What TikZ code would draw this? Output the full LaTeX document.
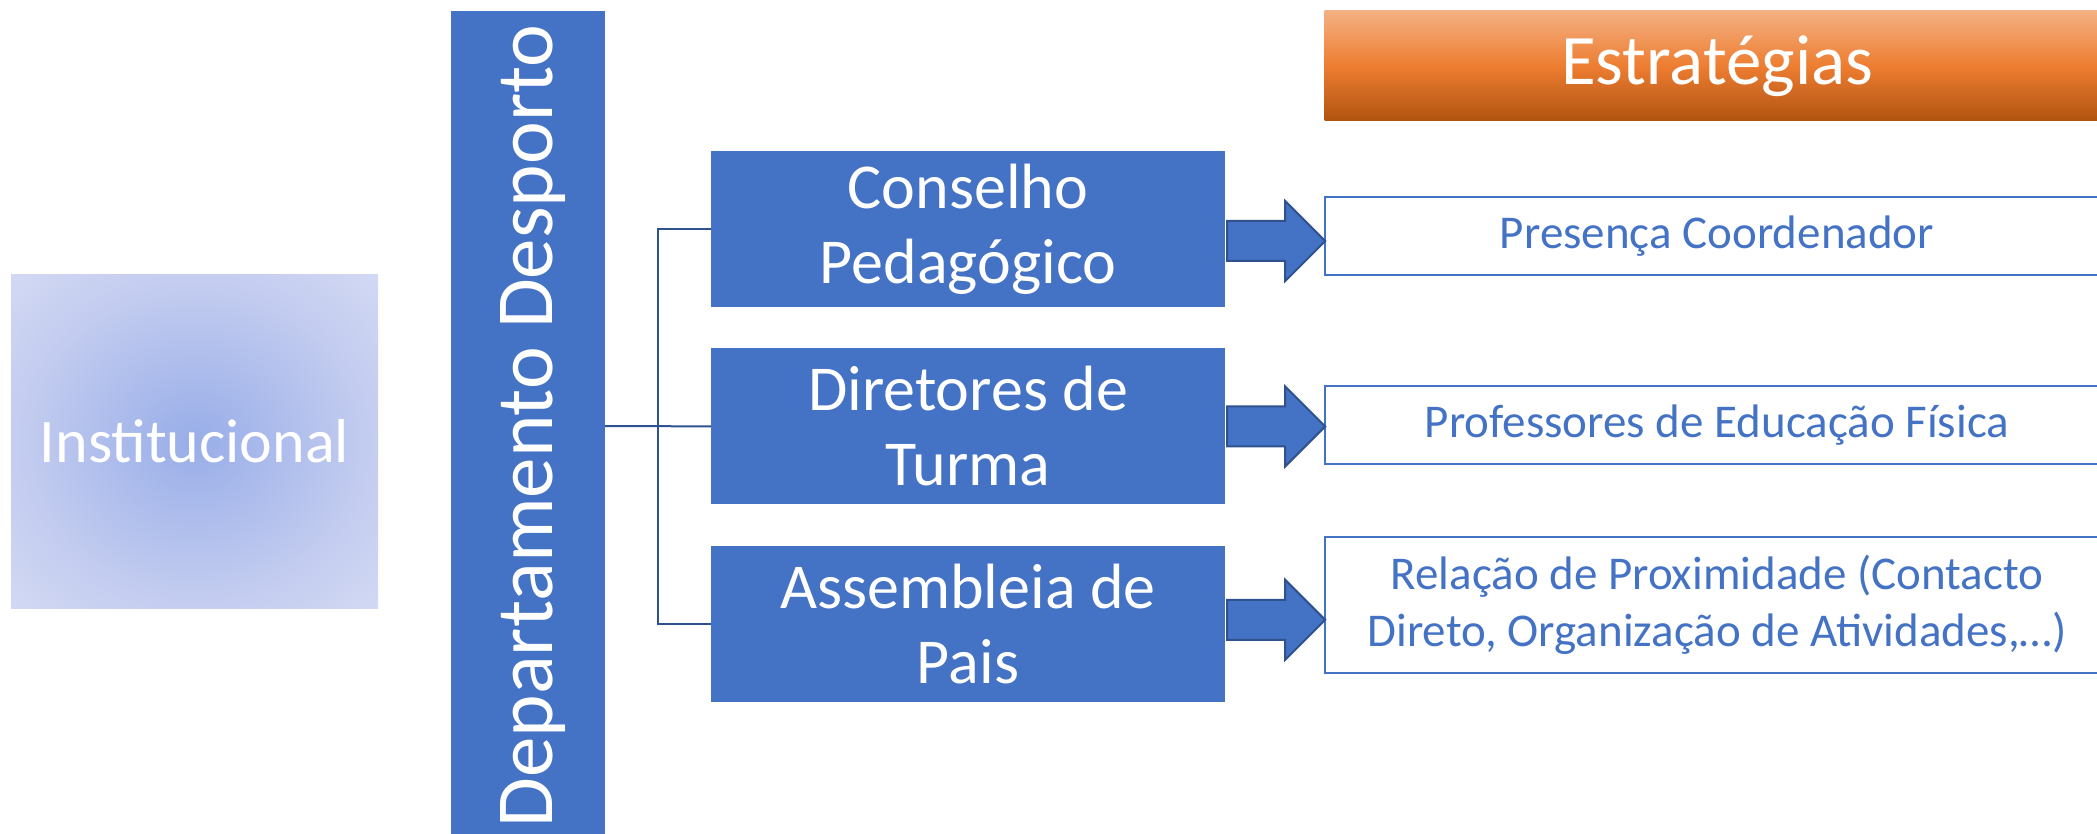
\documentclass[tikz,border=0pt]{standalone}
\usepackage{fontspec}
\setmainfont{Carlito}
\usetikzlibrary{arrows.meta,positioning,calc,shapes.arrows}
\definecolor{azul}{HTML}{4472C4}
\definecolor{azulesc}{HTML}{2F528F}
\definecolor{lar1}{HTML}{F4B183}
\definecolor{lar2}{HTML}{ED7D31}
\definecolor{lar3}{HTML}{B0530F}
\definecolor{lilas1}{HTML}{98ADE8}
\definecolor{lilasm}{HTML}{C4CDF0}
\definecolor{lilas2}{HTML}{E0E4F7}
\pgfdeclareradialshading{nuvem}{\pgfpoint{0bp}{0bp}}{color(0bp)=(lilas1);color(24bp)=(lilasm);color(46bp)=(lilas2);color(71bp)=(lilas2)}
\tikzset{
  bloco/.style={fill=azul,text=white,align=center,inner sep=0pt,
    minimum width=514pt,minimum height=156pt,font=\fontsize{64}{75}\selectfont},
  estrat/.style={draw=azul,line width=2pt,text=azul,align=center,inner sep=0pt,
    minimum width=785pt,font=\fontsize{47}{57}\selectfont},
  seta/.style={single arrow,fill=azul,draw=azulesc,line width=2pt,inner sep=19pt,
    single arrow head extend=20pt,minimum height=98pt,anchor=tail},
  ramo/.style={draw=azulesc,line width=2pt},
}

\begin{document}
\begin{tikzpicture}[x=1pt,y=-1pt]
  \useasboundingbox (0,0) rectangle (2097,834);
  % lado esquerdo
  \node[shade,shading=nuvem,minimum width=367pt,minimum height=333pt,inner sep=0pt,
    text=white,font=\fontsize{62}{74}\selectfont] (inst) at (194.5,441.5) {Institucional};
  \node[fill=azul,rotate=90,minimum width=830pt,minimum height=154pt,inner sep=0pt,
    text=white,text height=52pt,text depth=4pt,font=\fontsize{81}{96}\selectfont] (dep) at (528,426) {Departamento Desporto};
  % orgaos
  \node[bloco] (cons) at (968,229) {Conselho\\Pedagógico};
  \node[bloco,below=41pt of cons] (dir) {Diretores de\\Turma};
  \node[bloco,below=41pt of dir] (ass) {Assembleia de\\Pais};
  \coordinate (garfo) at ($(dep.south)!0.5!(dir.west)$);
  \draw[ramo] (dep.south) -- (dir.west);
  \draw[ramo] (cons.west) -| (garfo) |- (ass.west);
  % estrategias
  \node[top color=lar1,bottom color=lar3,middle color=lar2,minimum width=785pt,minimum height=110pt,
    inner sep=0pt,text=white,font=\fontsize{71}{85}\selectfont] (estr) at (1717,66) {Estratégias};
  \node[estrat,minimum height=78pt] (pres) at (1717,236) {Presença Coordenador};
  \node[estrat,minimum height=78pt] (prof) at (1717,425) {Professores de Educação Física};
  \node[estrat,minimum height=136pt] (rel) at (1717,605) {Relação de Proximidade (Contacto\\Direto, Organização de Atividades,…)};
  \node[seta] (s1) at ($(cons.east)+(1,12)$) {};
  \node[seta] (s2) at ($(dir.east)+(1,0)$) {};
  \node[seta] (s3) at ($(ass.east)+(1,-4)$) {};
\end{tikzpicture}
\end{document}
